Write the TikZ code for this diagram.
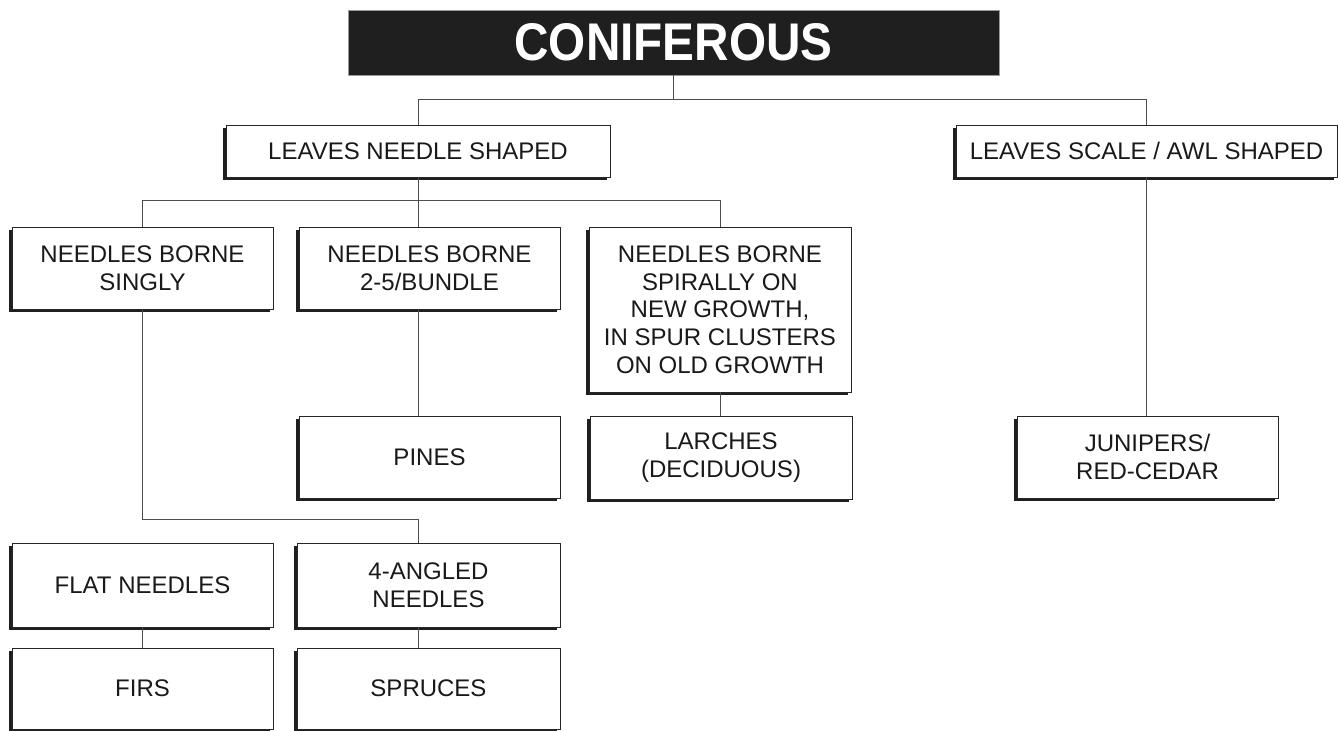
\documentclass[tikz,border=0pt]{standalone}
\usepackage{fontspec}
\usepackage{graphicx}
\setmainfont{Liberation Sans}
\usetikzlibrary{shadows}
\begin{document}
\begin{tikzpicture}[x=1pt,y=-1pt,
  box/.style={draw=black!85, line width=0.8pt, fill=white, inner sep=0pt, outer sep=0pt,
    align=center, text=black!90, font=\fontsize{24}{27.7}\selectfont,
    drop shadow={shadow xshift=-3pt, shadow yshift=-3pt, fill=black!88, opacity=1}},
  wh/.style 2 args={minimum width=#1, minimum height=#2},
  titlebox/.style={fill=black!88, draw=black!40, line width=0.6pt, inner sep=0pt, outer sep=0pt,
    text=white, font=\fontsize{53}{53}\selectfont\bfseries},
  conn/.style={draw=black!70, line width=0.9pt}]
\useasboundingbox (0,0) rectangle (1339,731);
\fill[white] (0,0) rectangle (1339,731);

\node[titlebox, wh={651}{65}] (title) at (673.5,42.5) {\scalebox{0.9}[1]{CONIFEROUS}};

\node[box, wh={384}{52}] (lns) at (418,151) {LEAVES NEEDLE SHAPED};
\node[box, wh={381}{52}] (lsa) at (1146.5,151) {LEAVES SCALE / AWL SHAPED};

\node[box, wh={261}{82}] (singly) at (142.5,268) {NEEDLES BORNE\\SINGLY};
\node[box, wh={261}{82}] (bundle) at (429.5,268) {NEEDLES BORNE\\2-5/BUNDLE};
\node[box, wh={262}{165}] (spiral) at (720,309.5) {NEEDLES BORNE\\SPIRALLY ON\\NEW GROWTH,\\IN SPUR CLUSTERS\\ON OLD GROWTH};

\node[box, wh={261}{82}] (pines) at (429.5,457) {PINES};
\node[box, wh={262}{83}] (larches) at (721,457.5) {LARCHES\\(DECIDUOUS)};
\node[box, wh={261}{82}] (junipers) at (1147.5,457) {JUNIPERS/\\RED-CEDAR};

\node[box, wh={261}{84}] (flat) at (142.5,585) {FLAT NEEDLES};
\node[box, wh={263}{84}] (angled) at (428.5,585) {4-ANGLED\\NEEDLES};

\node[box, wh={261}{81}] (firs) at (142.5,688.5) {FIRS};
\node[box, wh={263}{81}] (spruces) at (428.5,688.5) {SPRUCES};

\coordinate (b1) at (0,99);
\coordinate (b2) at (0,200);
\coordinate (b3) at (0,519);

\draw[conn] (title.south) -- (title.south |- b1);
\draw[conn] (lns.north) -- (lns.north |- b1) -- (lsa.north |- b1) -- (lsa.north);

\draw[conn] (lns.south) -- (lns.south |- b2);
\draw[conn] (singly.north) -- (singly.north |- b2) -- (spiral.north |- b2) -- (spiral.north);
\draw[conn] (lns.south |- b2) -- (lns.south |- bundle.north);

\draw[conn] (lns.south |- bundle.south) -- (lns.south |- pines.north);
\draw[conn] (spiral.south) -- (spiral.south |- larches.north);
\draw[conn] (lsa.south) -- (lsa.south |- junipers.north);

\draw[conn] (singly.south) -- (singly.south |- b3) -- (lns.south |- b3) -- (lns.south |- angled.north);
\draw[conn] (flat.south) -- (flat.south |- firs.north);
\draw[conn] (lns.south |- angled.south) -- (lns.south |- spruces.north);
\end{tikzpicture}
\end{document}
